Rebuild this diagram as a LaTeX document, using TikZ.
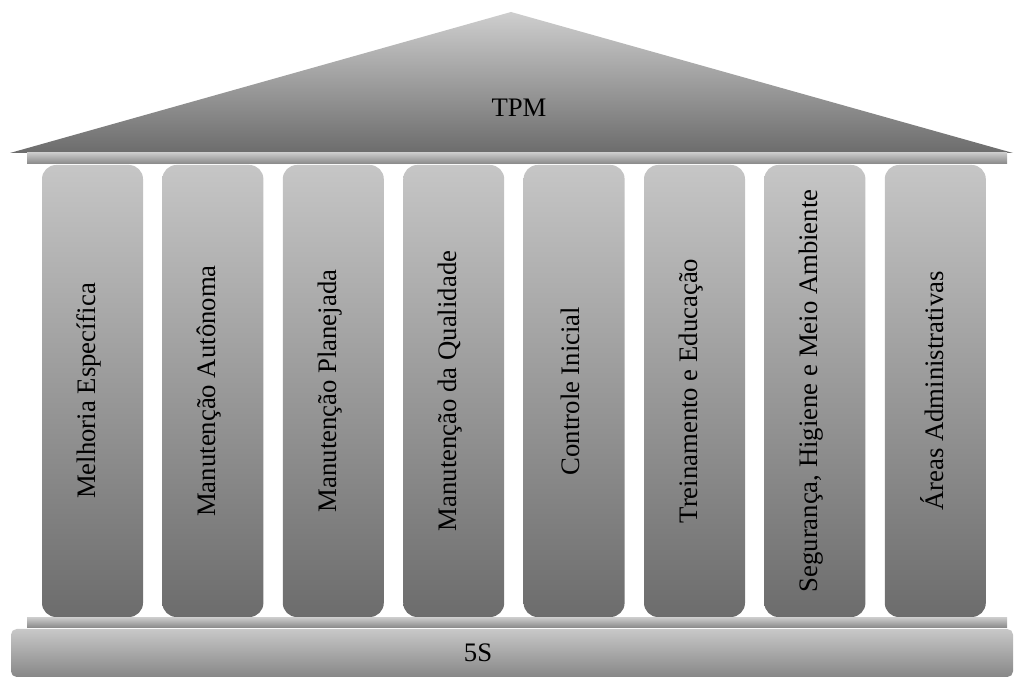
\documentclass[tikz,border=0pt]{standalone}
\usepackage{fontspec}
\setmainfont{Liberation Serif}
\definecolor{cinzatopo}{RGB}{206,206,206}
\definecolor{cinzabase}{RGB}{108,108,108}
\definecolor{vigatopo}{RGB}{200,200,200}
\definecolor{vigabase}{RGB}{135,135,135}
\tikzset{
    telhado/.style={top color=cinzatopo, bottom color=cinzabase},
    viga/.style={top color=vigatopo, bottom color=vigabase},
    pilar/.style={top color=cinzatopo!96!black, bottom color=cinzabase, rounded corners=10pt},
    rotulo/.style={font=\fontsize{19}{23}\selectfont, inner sep=0pt}
}
\begin{document}
\begin{tikzpicture}[x=0.025cm, y=0.025cm]
    \useasboundingbox (0,0) rectangle (1014,677);
    \shade [telhado] (10,524) -- (511,665) -- (1013,524) -- cycle;
    \shade [viga] (27,513) rectangle (1007,524);
    \shade [viga] (27,49) rectangle (1007,59);
    \shade [viga, rounded corners=4pt] (11,0) rectangle (1013,48);
    \foreach \i in {0,...,7}
        {\shade [pilar] ({42+120.4*\i},60) rectangle ({143+120.4*\i},512);}
    \node [rotulo] (tpm) at (519,569) {TPM};
    \node [rotulo] (cinco) at (478,24) {5S};

    \foreach \i/\t in {0/Melhoria Específica,1/Manutenção Autônoma,2/Manutenção Planejada,
        3/Manutenção da Qualidade,4/Controle Inicial,5/Treinamento e Educação,
        6/{Segurança, Higiene e Meio Ambiente},7/Áreas Administrativas}
        {\node [rotulo, rotate=90] (p\i) at ({89+120.4*\i},286) {\t};}
\end{tikzpicture}
\end{document}
